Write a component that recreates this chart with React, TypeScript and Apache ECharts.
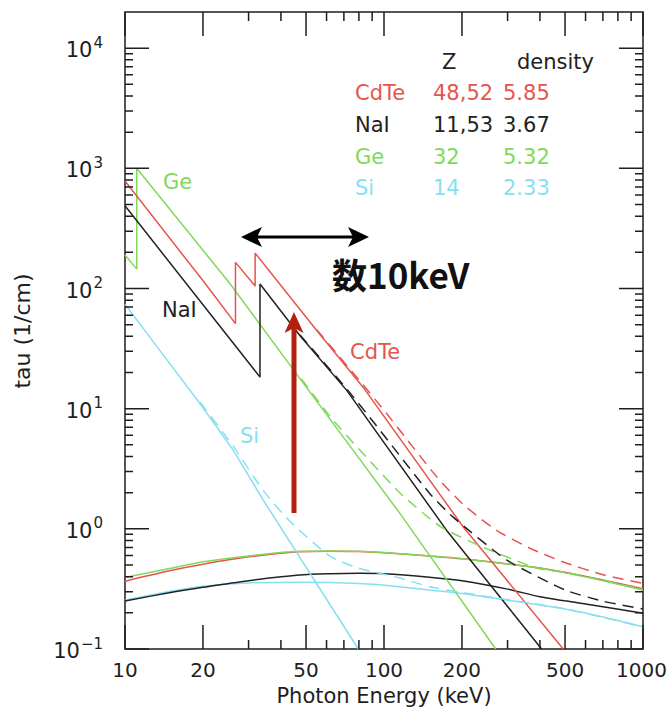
import React, { useEffect, useRef } from 'react';
import * as echarts from 'echarts';

// ---------- data ----------
const comptonE = [10, 15, 20, 30, 47, 62, 80, 100, 150, 200, 300, 400, 500, 700, 1000];
const cdteCompton = [0.367, 0.45, 0.508, 0.585, 0.645, 0.652, 0.648, 0.633, 0.593, 0.563, 0.51, 0.472, 0.435, 0.375, 0.318];
const naiCompton = [0.251, 0.295, 0.326, 0.37, 0.412, 0.423, 0.426, 0.422, 0.395, 0.37, 0.315, 0.272, 0.252, 0.225, 0.198];
const geCompton = [0.394, 0.47, 0.532, 0.595, 0.65, 0.655, 0.65, 0.635, 0.595, 0.565, 0.51, 0.47, 0.43, 0.37, 0.31];
const siCompton = [0.255, 0.302, 0.333, 0.355, 0.36, 0.357, 0.35, 0.34, 0.31, 0.29, 0.255, 0.232, 0.215, 0.185, 0.153];

const cdtePhotoE = [10, 20.4, 26.7, 26.7, 31.8, 31.8, 55, 83, 202, 492];
const cdtePhotoTau = [785, 110, 51, 165, 105, 197, 44.7, 15.1, 1.04, 0.1];
const naiPhotoE = [10, 33.2, 33.2, 47.4, 71.8, 174.6, 406];
const naiPhotoTau = [488, 18.3, 109, 40.5, 14.2, 0.97, 0.1];
const gePhotoE = [10, 11.1, 11.1, 25.4, 48, 115, 270];
const gePhotoTau = [190, 145, 1000, 110, 17.1, 1.35, 0.1];
const siPhotoE = [10, 13.65, 19.5, 26.2, 34.2, 79.6];
const siPhotoTau = [74, 30.4, 11, 4.5, 1.73, 0.1];

const cdteTotalE = [55, 83, 102, 160, 202, 272, 366, 492, 700, 1000];
const cdteTotalTau = [45.4, 15.8, 9.2, 2.7, 1.6, 0.97, 0.69, 0.53, 0.415, 0.352];
const naiTotalE = [47.4, 71.8, 93.5, 150.7, 185, 298, 500, 700, 1000];
const naiTotalTau = [41, 14.6, 7.2, 1.95, 1.25, 0.55, 0.31, 0.25, 0.215];
const geTotalE = [48, 63.7, 115, 164.5, 235, 389, 500, 700, 1000];
const geTotalTau = [17.7, 8.0, 2.0, 1.05, 0.72, 0.47, 0.435, 0.372, 0.312];
const siTotalE = [19.5, 26.2, 34.2, 43.4, 62, 80, 115, 150, 200, 300, 500, 1000];
const siTotalTau = [11.3, 4.85, 2.08, 1.15, 0.59, 0.47, 0.39, 0.33, 0.295, 0.257, 0.216, 0.153];

// axis ticks
const xMajorTicks = [10, 20, 50, 100, 200, 500, 1000];
const xMinorTicks = [30, 40, 60, 70, 80, 90, 300, 400, 600, 700, 800, 900];
const yMajorTicks = [0.1, 1, 10, 100, 1000, 10000];
const yMajorLabels = ['\u22121', '0', '1', '2', '3', '4'];
const yMinorMult = [2, 3, 4, 5, 6, 7, 8, 9];
const X_MIN = 10;
const X_MAX = 1000;
const Y_MIN = 0.1;
const Y_MAX = 20000;

// table
const tableNames = ['CdTe', 'NaI', 'Ge', 'Si'];
const tableZ = ['48,52', '11,53', '32', '14'];
const tableDensity = ['5.85', '3.67', '5.32', '2.33'];

// ---------- styles ----------
const FONT = "'DejaVu Sans', sans-serif";
const AXIS = '#1e1e1e';
const C_RED = '#e5554d';
const C_BLACK = '#222222';
const C_GREEN = '#7fd95a';
const C_CYAN = '#86dff0';
const tableColors = [C_RED, C_BLACK, C_GREEN, C_CYAN];
const GRID = { left: 125, top: 12, width: 518, height: 637 };
const MAJOR_LEN = 24;
const MINOR_LEN_X = 9;
const MINOR_LEN_Y = 8;

const zip = (xs: number[], ys: number[]) => xs.map((x, i) => [x, ys[i]]);

export default function App() {
  const ref = useRef<HTMLDivElement>(null);
  useEffect(() => {
    if (!ref.current) return;
    const chart = echarts.init(ref.current, undefined, { renderer: 'svg' });

    const yMinorTicks: number[] = [];
    yMajorTicks.forEach((d) => {
      if (d < 10000) yMinorMult.forEach((m) => yMinorTicks.push(d * m));
    });

    const lineSeries = (data: any[], color: string, dashed = false, smooth: boolean | number = false) => ({
      type: 'line',
      data,
      showSymbol: false,
      symbol: 'none',
      smooth,
      z: 2,
      silent: true,
      lineStyle: { color, width: 1.5, type: dashed ? [11, 7] : 'solid' },
    });

    const textEl = (text: string, x: number, y: number, color: string, extra: any = {}) => ({
      type: 'text',
      x,
      y,
      z: 20,
      silent: true,
      style: {
        text,
        fill: color,
        fontSize: 21,
        fontFamily: FONT,
        align: 'left',
        verticalAlign: 'middle',
        ...extra,
      },
    });

    const graphics: any[] = [];
    graphics.push(textEl('Z', 442, 62, C_BLACK));
    graphics.push(textEl('density', 517, 62, C_BLACK));
    const rowY = [93, 125, 157, 188];
    tableNames.forEach((n, i) => {
      graphics.push(textEl(n, 355, rowY[i], tableColors[i]));
      graphics.push(textEl(tableZ[i], 433, rowY[i], tableColors[i]));
      graphics.push(textEl(tableDensity[i], 503, rowY[i], tableColors[i]));
    });
    graphics.push(textEl('Ge', 163, 182, C_GREEN));
    graphics.push(textEl('NaI', 162, 310, C_BLACK));
    graphics.push(textEl('CdTe', 350, 352, C_RED));
    graphics.push(textEl('Si', 240, 436, C_CYAN));
    graphics.push(
      textEl('\u657010keV', 332, 273, '#111111', {
        fontSize: 35,
        fontWeight: 'bold',
        fontFamily: "'Noto Sans CJK JP', 'Noto Sans CJK SC', sans-serif",
      })
    );
    graphics.push(textEl('Photon Energy (keV)', 384, 696, AXIS, { fontSize: 21, align: 'center' }));
    graphics.push({
      type: 'text',
      x: 22,
      y: 331,
      rotation: Math.PI / 2,
      silent: true,
      style: { text: 'tau (1/cm)', fill: AXIS, fontSize: 22, fontFamily: FONT, align: 'center', verticalAlign: 'middle' },
    });
    // double arrow
    graphics.push({ type: 'line', silent: true, z: 20, shape: { x1: 256, y1: 237, x2: 354, y2: 237 }, style: { stroke: '#000', lineWidth: 3 } });
    graphics.push({ type: 'polygon', silent: true, z: 20, shape: { points: [[241, 237], [262, 227], [257, 237], [262, 247]] }, style: { fill: '#000' } });
    graphics.push({ type: 'polygon', silent: true, z: 20, shape: { points: [[369, 237], [348, 227], [353, 237], [348, 247]] }, style: { fill: '#000' } });
    // red arrow
    graphics.push({ type: 'rect', silent: true, z: 20, shape: { x: 291.5, y: 326, width: 5, height: 187 }, style: { fill: '#b3200f' } });
    graphics.push({ type: 'polygon', silent: true, z: 20, shape: { points: [[294, 312], [284.5, 333], [294, 328], [303.5, 333]] }, style: { fill: '#b3200f' } });

    const hiddenAxis = (min: number, max: number) => ({
      type: 'log',
      logBase: 10,
      min,
      max,
      axisLine: { show: false },
      axisTick: { show: false },
      axisLabel: { show: false },
      splitLine: { show: false },
    });

    const option: any = {
      animation: false,
      backgroundColor: '#ffffff',
      grid: { ...GRID, show: true, borderColor: AXIS, borderWidth: 1.5, backgroundColor: 'transparent' },
      xAxis: hiddenAxis(X_MIN, X_MAX),
      yAxis: hiddenAxis(Y_MIN, Y_MAX),
      series: [
        lineSeries(zip(comptonE, siCompton), C_CYAN, false, 0.3),
        lineSeries(zip(comptonE, naiCompton), C_BLACK, false, 0.3),
        lineSeries(zip(comptonE, cdteCompton), C_RED, false, 0.3),
        lineSeries(zip(comptonE, geCompton), C_GREEN, false, 0.3),
        lineSeries(zip(siPhotoE, siPhotoTau), C_CYAN),
        lineSeries(zip(gePhotoE, gePhotoTau), C_GREEN),
        lineSeries(zip(naiPhotoE, naiPhotoTau), C_BLACK),
        lineSeries(zip(cdtePhotoE, cdtePhotoTau), C_RED),
        lineSeries(zip(siTotalE, siTotalTau), C_CYAN, true, 0.2),
        lineSeries(zip(geTotalE, geTotalTau), C_GREEN, true, 0.2),
        lineSeries(zip(naiTotalE, naiTotalTau), C_BLACK, true, 0.2),
        lineSeries(zip(cdteTotalE, cdteTotalTau), C_RED, true, 0.2),
      ],
      graphic: graphics,
    };
    chart.setOption(option);

    // ---- ticks (one compound path) and tick labels, placed through the chart's own scales ----
    const toPx = (x: number, y: number) =>
      chart.convertToPixel({ xAxisIndex: 0, yAxisIndex: 0 }, [x, y]) as number[];
    const gl = GRID.left;
    const gr = GRID.left + GRID.width;
    const gt = GRID.top;
    const gb = GRID.top + GRID.height;
    const f = (n: number) => n.toFixed(2);
    let d = '';
    const xTick = (v: number, len: number) => {
      const px = toPx(v, 1)[0];
      d += `M${f(px)} ${f(gb)}L${f(px)} ${f(gb - len)}M${f(px)} ${f(gt)}L${f(px)} ${f(gt + len)}`;
    };
    const yTick = (v: number, len: number) => {
      const py = toPx(10, v)[1];
      d += `M${f(gl)} ${f(py)}L${f(gl + len)} ${f(py)}M${f(gr)} ${f(py)}L${f(gr - len)} ${f(py)}`;
    };
    xMajorTicks.forEach((v) => xTick(v, MAJOR_LEN));
    xMinorTicks.forEach((v) => xTick(v, MINOR_LEN_X));
    yMajorTicks.forEach((v) => yTick(v, MAJOR_LEN));
    yMinorTicks.forEach((v) => yTick(v, MINOR_LEN_Y));
    echarts.graphic.registerShape('axisTicks', echarts.graphic.extendPath(d, {}));

    const labelEls: any[] = [];
    labelEls.push({
      type: 'axisTicks',
      x: 0,
      y: 0,
      scaleX: 1,
      scaleY: 1,
      z: 15,
      silent: true,
      style: { stroke: AXIS, lineWidth: 1.5, fill: 'none' },
    });
    xMajorTicks.forEach((v) => {
      const px = toPx(v, 1)[0];
      const isLast = v === X_MAX;
      labelEls.push(
        textEl(String(v), isLast ? 667 : px, gb + 21, AXIS, { fontSize: 20, align: isLast ? 'right' : 'center' })
      );
    });
    yMajorTicks.forEach((dv, i) => {
      const py = toPx(10, dv)[1];
      labelEls.push({
        type: 'text',
        x: 103,
        y: py + 2,
        z: 20,
        silent: true,
        style: {
          text: '{b|10}{s|' + yMajorLabels[i] + '}',
          align: 'right',
          verticalAlign: 'middle',
          rich: {
            b: { fontSize: 21, fontFamily: FONT, fill: AXIS, lineHeight: 30, verticalAlign: 'middle' },
            s: { fontSize: 15, fontFamily: FONT, fill: AXIS, verticalAlign: 'top', padding: [0, 0, 0, 1] },
          },
        },
      });
    });
    chart.setOption({ graphic: [...graphics, ...labelEls] });

    return () => chart.dispose();
  }, []);

  return (
    <div
      ref={ref}
      style={{ position: 'fixed', left: 0, top: 0, width: 668, height: 710, background: '#fff' }}
    />
  );
}
